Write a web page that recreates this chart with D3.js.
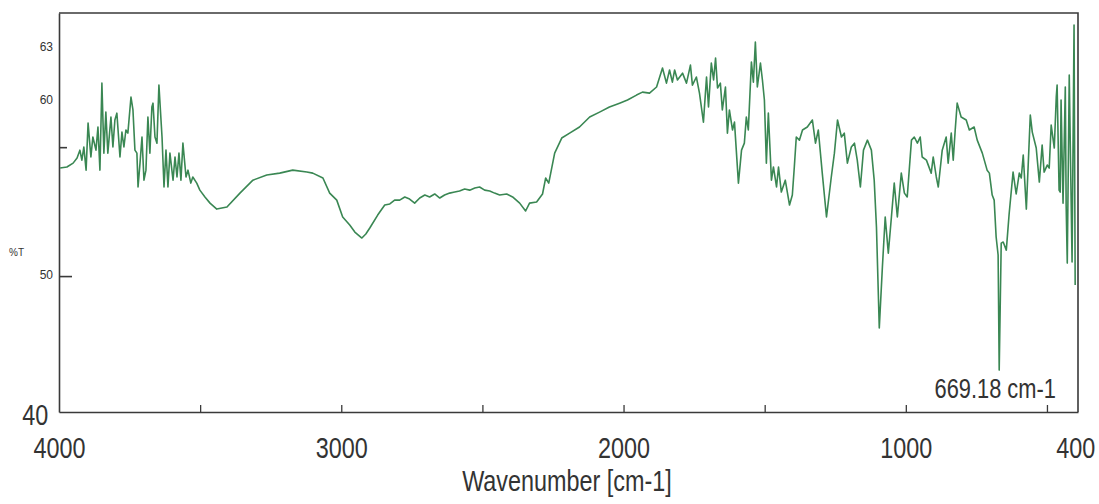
<!DOCTYPE html>
<html>
<head>
<meta charset="utf-8">
<script src="https://cdn.jsdelivr.net/npm/d3@7"></script>
<style>
  html, body { margin: 0; padding: 0; background: #fff; }
  svg { display: block; }
  .narrow { transform-box: fill-box; transform-origin: center; transform: scaleX(0.78); }
</style>
</head>
<body>
<svg id="chart" width="1099" height="504"></svg>
<script>
// ---- data ----
const wavenumber = [3996,3972,3950,3936,3926,3919,3912,3904,3897,3887,3880,3869,3862,3855,3848,3841,3834,3827,3816,3809,3802,3795,3784,3777,3770,3763,3756,3745,3738,3731,3724,3720,3713,3706,3699,3692,3685,3678,3671,3667,3660,3653,3646,3635,3628,3621,3614,3607,3596,3589,3582,3575,3568,3561,3550,3543,3533,3526,3512,3501,3483,3465,3441,3405,3359,3313,3264,3218,3172,3122,3101,3065,3041,3016,2995,2970,2952,2927,2913,2899,2871,2846,2828,2811,2793,2775,2758,2740,2722,2704,2687,2669,2651,2634,2616,2598,2581,2563,2545,2527,2510,2492,2474,2457,2439,2414,2393,2368,2347,2333,2308,2287,2276,2265,2244,2219,2191,2156,2120,2085,2050,2014,1986,1954,1933,1908,1883,1862,1848,1837,1827,1819,1809,1791,1777,1763,1756,1742,1731,1717,1706,1699,1689,1681,1674,1667,1657,1650,1639,1632,1625,1614,1607,1593,1582,1572,1565,1558,1547,1540,1533,1526,1515,1508,1501,1494,1487,1476,1469,1458,1451,1441,1427,1412,1402,1395,1388,1377,1366,1349,1331,1320,1310,1296,1281,1264,1253,1242,1228,1218,1207,1193,1182,1172,1161,1150,1136,1122,1112,1104,1094,1083,1073,1062,1051,1041,1030,1016,1005,995,980,970,959,949,942,927,910,903,892,885,871,857,850,839,832,825,818,804,786,775,758,747,729,712,704,694,687,680,673,669.18,662,655,644,634,620,609,598,591,584,573,559,552,538,527,517,510,499,492,485,474,467,464,457,453,450,443,435,432,428,421,411,404,400];

const transmittance = [56.16,56.22,56.44,56.73,57.18,56.61,57.36,56.04,58.72,56.79,57.93,57.18,58.50,56.04,61.00,57.01,59.35,57.01,59.07,57.36,58.90,59.29,56.79,58.21,57.36,58.33,58.15,60.21,59.47,57.18,57.01,55.08,56.44,57.93,55.47,56.04,59.07,57.01,59.64,59.86,57.93,57.58,60.89,57.93,55.08,57.18,55.08,57.01,55.47,56.79,55.65,57.01,55.47,57.58,55.65,56.04,55.30,55.65,55.30,54.90,54.51,54.16,53.82,53.94,54.73,55.47,55.76,55.87,56.04,55.93,55.87,55.59,54.73,54.33,53.37,52.91,52.51,52.17,52.40,52.74,53.48,54.05,54.11,54.33,54.33,54.51,54.39,54.16,54.45,54.62,54.51,54.68,54.45,54.62,54.73,54.79,54.85,54.96,54.90,55.02,55.08,54.90,54.85,54.73,54.62,54.68,54.51,54.16,53.71,54.16,54.22,54.68,55.59,55.30,57.01,57.87,58.15,58.50,59.07,59.35,59.64,59.86,60.04,60.32,60.49,60.43,60.78,61.86,61.00,61.75,61.06,61.75,61.18,61.57,61.00,62.03,60.89,61.35,60.43,58.78,61.35,59.64,62.14,61.18,62.43,60.72,61.00,59.47,60.78,58.15,59.47,58.33,58.78,55.30,57.18,57.58,59.07,58.33,62.20,61.06,63.34,60.78,62.14,61.18,60.04,56.44,59.29,55.47,56.22,55.08,56.22,54.79,55.47,54.05,54.62,56.22,57.93,57.75,58.33,58.50,58.90,57.58,58.33,55.87,53.37,55.65,57.01,58.90,57.93,58.15,56.44,57.36,57.58,56.61,55.08,57.18,57.75,57.18,55.47,52.80,47.04,50.51,53.37,51.31,53.37,55.30,53.37,55.87,54.73,54.51,57.75,57.93,57.58,57.93,56.79,56.61,55.87,56.79,55.65,55.08,57.18,57.93,56.44,58.15,56.61,58.33,59.86,59.07,58.90,58.33,58.50,57.75,57.01,56.04,55.87,54.62,54.33,52.23,51.20,44.64,51.88,51.94,51.48,53.54,55.93,54.68,55.87,55.59,56.90,53.82,59.18,58.21,57.30,55.36,57.47,55.93,56.33,56.16,58.61,57.30,60.21,60.89,54.90,54.79,60.04,54.16,60.78,54.05,50.74,61.46,50.80,64.31,49.49];

const xLabelValues = [4000, 3000, 2000, 1000, 400];
const xLabelTexts  = ["4000", "3000", "2000", "1000", "400"];
const xMarkTicks   = [3500, 3000, 2500, 2000, 1500, 1000, 500];
const yLabelValues = [63, 60, 50];
const yLabelTexts  = ["63", "60", "50"];
const yMinorMarks  = [57.35];
const yMajorMarks  = [50];
const cornerLabel  = "40";
const yTitle       = "%T";
const xTitle       = "Wavenumber [cm-1]";
const peakWavenumber = 669.18;
const peakLabel    = "669.18 cm-1";

// ---- drawing ----
const svg = d3.select("#chart");
const axisColor = "#3a3a3a";
const lineColor = "#3a8753";
const fontFam = "'Liberation Sans', Arial, Helvetica, sans-serif";

const x = d3.scaleLinear().domain([4000, 390]).range([59, 1078]);
const y = d3.scaleLinear().domain([42.25, 65]).range([412, 13]);

const [x0, x1] = x.range();
const [yb, yt] = y.range();

// frame (top + right)
svg.append("path")
  .attr("d", `M${x0},${yt}H${x1}V${yb}`)
  .attr("fill", "none").attr("stroke", axisColor).attr("stroke-width", 1.6);

// bottom axis: inward tick marks
const gxm = svg.append("g").attr("transform", `translate(0,${yb})`)
  .call(d3.axisBottom(x).tickValues(xMarkTicks).tickSize(-7).tickSizeOuter(0).tickFormat(""));
gxm.select(".domain").attr("stroke", axisColor).attr("stroke-width", 1.6);
gxm.selectAll(".tick line").attr("stroke", axisColor).attr("stroke-width", 1.3);

// bottom axis labels
const gxl = svg.append("g").attr("transform", `translate(0,${yb})`)
  .call(d3.axisBottom(x).tickValues(xLabelValues).tickSize(0)
        .tickFormat((d, i) => xLabelTexts[i]));
gxl.select(".domain").remove();
gxl.selectAll("text")
  .attr("y", 46).attr("dy", null)
  .attr("class", "narrow")
  .attr("font-family", fontFam).attr("font-size", 30).attr("fill", "#333");

// left axis: labels
const gyl = svg.append("g").attr("transform", `translate(${x0},0)`)
  .call(d3.axisLeft(y).tickValues(yLabelValues).tickSize(0).tickPadding(6)
        .tickFormat((d, i) => yLabelTexts[i]));
gyl.select(".domain").attr("stroke", axisColor).attr("stroke-width", 1.6);
gyl.selectAll("text").attr("font-family", fontFam).attr("font-size", 12).attr("fill", "#333")
  .attr("dy", "0.2em");

// left axis: inward marks
const gym1 = svg.append("g").attr("transform", `translate(${x0},0)`)
  .call(d3.axisLeft(y).tickValues(yMinorMarks).tickSize(-8).tickSizeOuter(0).tickFormat(""));
gym1.select(".domain").remove();
gym1.selectAll(".tick line").attr("stroke", axisColor).attr("stroke-width", 1.6);
const gym2 = svg.append("g").attr("transform", `translate(${x0},0)`)
  .call(d3.axisLeft(y).tickValues(yMajorMarks).tickSize(-13).tickSizeOuter(0).tickFormat(""));
gym2.select(".domain").remove();
gym2.selectAll(".tick line").attr("stroke", axisColor).attr("stroke-width", 1.6);

// y title
svg.append("text").attr("x", 9).attr("y", 256)
  .attr("font-family", fontFam).attr("font-size", 10).attr("fill", "#333")
  .text(yTitle);

// corner label "40"
svg.append("text").attr("x", x0 - 7).attr("y", 425).attr("text-anchor", "end")
  .attr("class", "narrow")
  .attr("font-family", fontFam).attr("font-size", 30).attr("fill", "#333")
  .text(cornerLabel);

// x title
svg.append("text").attr("x", 567).attr("y", 491).attr("text-anchor", "middle")
  .attr("class", "narrow")
  .attr("font-family", fontFam).attr("font-size", 30).attr("fill", "#333")
  .text(xTitle);

// spectrum
const data = wavenumber.map((w, i) => ({ w, t: transmittance[i] }));
svg.append("path")
  .datum(data)
  .attr("fill", "none")
  .attr("stroke", lineColor)
  .attr("stroke-width", 1.6)
  .attr("stroke-linejoin", "round")
  .attr("d", d3.line().x(d => x(d.w)).y(d => y(d.t)));

// peak label
svg.append("text").attr("x", x(peakWavenumber) - 4).attr("y", 398).attr("text-anchor", "middle")
  .attr("class", "narrow")
  .attr("font-family", fontFam).attr("font-size", 28).attr("fill", "#333")
  .text(peakLabel);
</script>
</body>
</html>
